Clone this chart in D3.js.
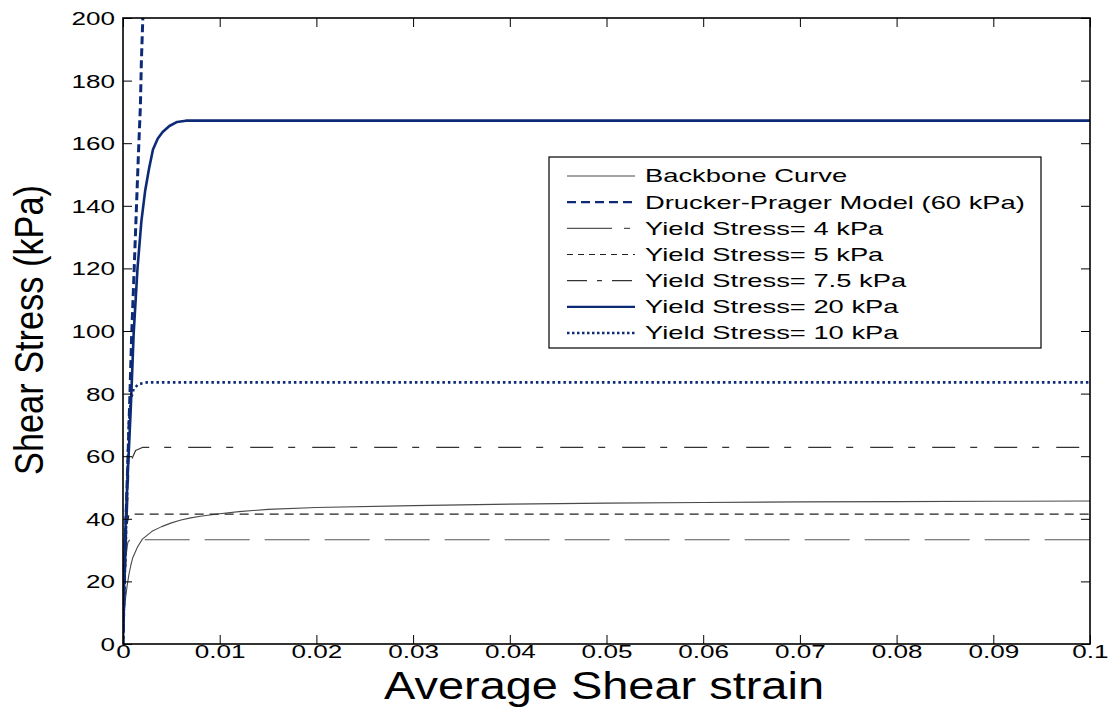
<!DOCTYPE html>
<html>
<head>
<meta charset="utf-8">
<script src="https://cdn.jsdelivr.net/npm/d3@7"></script>
<style>
  html, body { margin: 0; padding: 0; background: #fff; }
  svg { display: block; }
  text { font-family: "Liberation Sans", Arial, sans-serif; }
</style>
</head>
<body>
<svg id="chart" width="1109" height="709"></svg>
<script>
// ---------- data ----------
const xTicks = [0, 0.01, 0.02, 0.03, 0.04, 0.05, 0.06, 0.07, 0.08, 0.09, 0.1];
const xTickLabels = ["0", "0.01", "0.02", "0.03", "0.04", "0.05", "0.06", "0.07", "0.08", "0.09", "0.1"];
const yTicks = [0, 20, 40, 60, 80, 100, 120, 140, 160, 180, 200];
const yTickLabels = ["0", "20", "40", "60", "80", "100", "120", "140", "160", "180", "200"];

const backboneStrain = [0, 0.0001, 0.0002, 0.0004, 0.0006, 0.0008, 0.001, 0.0015, 0.002, 0.003, 0.004, 0.005, 0.006, 0.007, 0.008, 0.01, 0.012, 0.015, 0.02, 0.03, 0.04, 0.05, 0.06, 0.07, 0.08, 0.09, 0.1];
const backboneStress = [0, 8, 13, 18, 22, 25, 27.5, 31, 33.5, 36, 37.5, 38.7, 39.6, 40.3, 40.8, 41.6, 42.3, 43, 43.6, 44.2, 44.7, 45, 45.2, 45.4, 45.5, 45.6, 45.7];

const dpStrain = [0, 0.0002, 0.0005, 0.0007, 0.0009, 0.0011, 0.0013, 0.0016, 0.0018, 0.0019, 0.00205];
const dpStress = [0, 30, 58, 78, 99, 115, 132, 157, 172, 186, 200];

const ys4Strain = [0, 0.0003, 0.0005, 0.0007, 0.1];
const ys4Stress = [0, 28, 32.5, 33.3, 33.3];

const ys5Strain = [0, 0.0004, 0.0006, 0.0008, 0.1];
const ys5Stress = [0, 38, 41, 41.5, 41.5];

const ys75Strain = [0, 0.0006, 0.0009, 0.0013, 0.002, 0.1];
const ys75Stress = [0, 55, 59, 61.8, 62.8, 62.8];

const ys20Strain = [0, 0.0002, 0.0005, 0.0008, 0.0011, 0.0015, 0.0019, 0.0023, 0.0027, 0.0031, 0.0036, 0.0041, 0.0048, 0.0056, 0.0065, 0.1];
const ys20Stress = [0, 33, 55, 75, 99, 120, 135, 145, 152, 158, 161.5, 163.6, 165.5, 166.8, 167.2, 167.2];

const ys10Strain = [0, 0.0006, 0.0008, 0.0011, 0.0016, 0.0025, 0.1];
const ys10Stress = [0, 70, 78, 81.5, 83, 83.6, 83.6];

const seriesNames = ["Backbone Curve", "Drucker-Prager Model (60 kPa)", "Yield Stress= 4 kPa", "Yield Stress= 5 kPa", "Yield Stress= 7.5 kPa", "Yield Stress= 20 kPa", "Yield Stress= 10 kPa"];

// ---------- styles ----------
const NAVY = "#0c2a76";
const styles = [
  { color: "#4a4a4a", width: 1.1, dash: null },
  { color: NAVY, width: 3, dash: "8,4" },
  { color: "#555", width: 1.2, dash: "45,15" },
  { color: "#222", width: 1.2, dash: "9,6" },
  { color: "#333", width: 1.2, dash: "23,15,7,17" },
  { color: NAVY, width: 2.6, dash: null },
  { color: NAVY, width: 2.6, dash: "2.5,3" }
];
const legendDash = [null, "9,5", "45,12,6,12", "6,5", "20,10,5,10", null, "2.5,2.5"];

const series = [
  [backboneStrain, backboneStress],
  [dpStrain, dpStress],
  [ys4Strain, ys4Stress],
  [ys5Strain, ys5Stress],
  [ys75Strain, ys75Stress],
  [ys20Strain, ys20Stress],
  [ys10Strain, ys10Stress]
];
// draw order: backbone and black lines under navy ones
const drawOrder = [0, 2, 3, 4, 6, 1, 5];

// ---------- layout ----------
const L = 123, R = 1090, T = 18, B = 644;
const SX = 1.45; // horizontal stretch of glyphs in the reference

const svg = d3.select("#chart");
const x = d3.scaleLinear().domain([0, 0.1]).range([L, R]);
const y = d3.scaleLinear().domain([0, 200]).range([B, T]);

svg.append("defs").append("clipPath").attr("id", "clip")
  .append("rect").attr("x", L).attr("y", T).attr("width", R - L).attr("height", B - T);

const line = d3.line().x(d => x(d[0])).y(d => y(d[1]));

const plot = svg.append("g").attr("clip-path", "url(#clip)");
drawOrder.forEach(i => {
  const [xs, vs] = series[i];
  const pts = xs.map((v, k) => [v, vs[k]]);
  const s = styles[i];
  plot.append("path")
    .attr("d", line(pts))
    .attr("fill", "none")
    .attr("stroke", s.color)
    .attr("stroke-width", s.width)
    .attr("stroke-dasharray", s.dash)
    .attr("stroke-linejoin", "round");
});

// ---------- axes ----------
function styleAxis(g) {
  g.select(".domain").remove();
  g.selectAll(".tick line").attr("stroke", "#000").attr("stroke-width", 1);
}
// bottom
const gx = svg.append("g").attr("transform", `translate(0,${B})`)
  .call(d3.axisBottom(x).tickValues(xTicks).tickSize(-9).tickPadding(0)
    .tickFormat((d, i) => xTickLabels[i]));
styleAxis(gx);
gx.selectAll(".tick text")
  .attr("y", 14).attr("dy", null)
  .attr("font-size", 18).attr("fill", "#000")
  .attr("font-family", "Liberation Sans, Arial, sans-serif")
  .attr("transform", `scale(${SX},1)`);
// top
const gxt = svg.append("g").attr("transform", `translate(0,${T})`)
  .call(d3.axisTop(x).tickValues(xTicks).tickSize(-9).tickFormat(""));
styleAxis(gxt);
// left
const gy = svg.append("g").attr("transform", `translate(${L},0)`)
  .call(d3.axisLeft(y).tickValues(yTicks).tickSize(-9).tickPadding(0)
    .tickFormat((d, i) => yTickLabels[i]));
styleAxis(gy);
gy.selectAll(".tick text")
  .attr("x", -8 / SX).attr("dy", "0.36em")
  .attr("font-size", 18).attr("fill", "#000")
  .attr("font-family", "Liberation Sans, Arial, sans-serif")
  .attr("transform", `scale(${SX},1)`);
// right
const gyr = svg.append("g").attr("transform", `translate(${R},0)`)
  .call(d3.axisRight(y).tickValues(yTicks).tickSize(-9).tickFormat(""));
styleAxis(gyr);

// frame
svg.append("rect").attr("x", L).attr("y", T).attr("width", R - L).attr("height", B - T)
  .attr("fill", "none").attr("stroke", "#000").attr("stroke-width", 1.6);

// ---------- axis titles ----------
svg.append("text")
  .attr("x", 604).attr("y", 699)
  .attr("text-anchor", "middle")
  .attr("font-size", 38)
  .attr("textLength", 440).attr("lengthAdjust", "spacingAndGlyphs")
  .text("Average Shear strain");

svg.append("text")
  .attr("transform", "translate(43,330) rotate(-90)")
  .attr("text-anchor", "middle")
  .attr("font-size", 41)
  .attr("textLength", 290).attr("lengthAdjust", "spacingAndGlyphs")
  .text("Shear Stress (kPa)");

// ---------- legend ----------
const lg = svg.append("g");
const LX = 549, LY = 157, LW = 492, LH = 191;
lg.append("rect").attr("x", LX).attr("y", LY).attr("width", LW).attr("height", LH)
  .attr("fill", "#fff").attr("stroke", "#000").attr("stroke-width", 1.2);
const rowY = d3.scaleLinear().domain([0, 6]).range([176, 333]);
seriesNames.forEach((name, i) => {
  const yy = rowY(i);
  const s = styles[i];
  lg.append("line")
    .attr("x1", 567).attr("x2", 635).attr("y1", yy).attr("y2", yy)
    .attr("stroke", s.color)
    .attr("stroke-width", s.width > 2 ? 2.4 : 1.2)
    .attr("stroke-dasharray", legendDash[i]);
  lg.append("text")
    .attr("transform", `translate(645,${yy}) scale(1.52,1)`)
    .attr("dy", "0.36em")
    .attr("font-size", 18)
    .text(name);
});
</script>
</body>
</html>
